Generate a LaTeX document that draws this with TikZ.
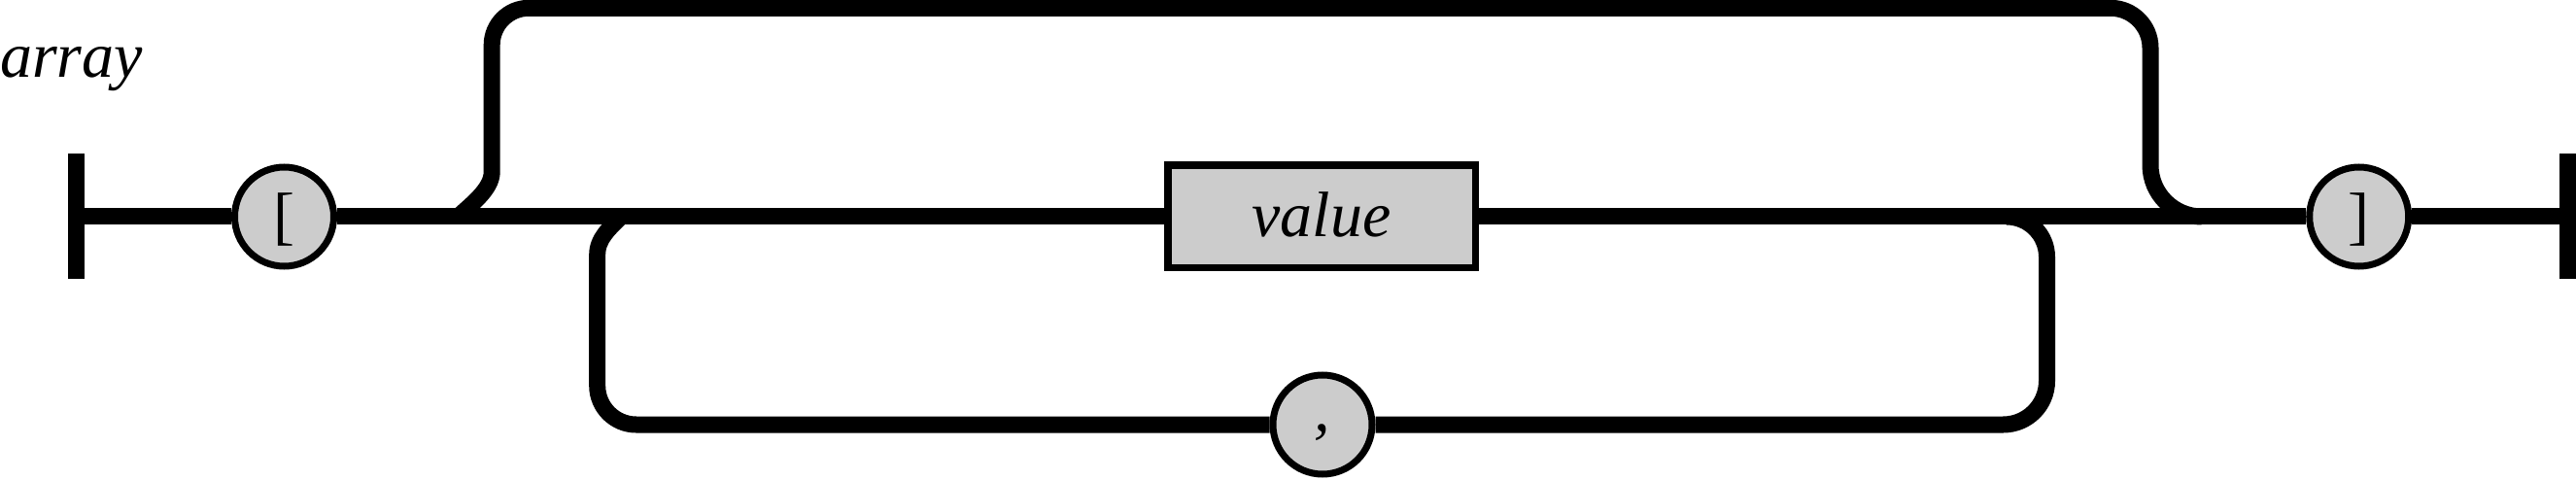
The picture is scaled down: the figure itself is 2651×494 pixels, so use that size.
\documentclass[tikz,border=0pt]{standalone}
\usepackage{fontspec}
\setmainfont{Liberation Serif}
\definecolor{tokfill}{RGB}{204,204,204}
\tikzset{
  rail/.style={line width=17pt},
  tok/.style={circle, draw, line width=7pt, fill=tokfill, minimum size=102pt, inner sep=0pt,
    text height=45pt, text depth=2pt, font=\fontsize{66}{70}\selectfont},
  ntbox/.style={rectangle, draw, line width=7.5pt, fill=tokfill, minimum width=316.5pt,
    minimum height=105.5pt, inner sep=0pt, text height=45pt, text depth=4pt,
    font=\fontsize{66}{70}\selectfont\itshape},
  endbar/.style={rectangle, fill=black, minimum width=17pt, minimum height=129pt, inner sep=0pt},
  titletext/.style={anchor=base west, inner sep=0pt, font=\fontsize{66}{70}\selectfont\itshape},
}
\begin{document}
\begin{tikzpicture}[x=1pt,y=-1pt]
\useasboundingbox (0,0) rectangle (2651,494);
\node[titletext] (title) at (0,80) {array};
\node[endbar] (start) at (78.5,223) {};
\node[tok] (lb) at (292.5,223) {[};
\node[ntbox] (val) at (1360,223) {value};
\node[tok] (rb) at (2427.7,223) {]};
\node[endbar] (stop) at (2642.5,223) {};
\node[tok, text height=14pt, text depth=2pt, font=\fontsize{66}{70}\selectfont\itshape] (comma) at (1361,437) {,};
% junction points on the main line
\coordinate (upL) at (471.5,223);
\coordinate (upR) at (2266,223);
\coordinate (loL) at (639,223);
\coordinate (loR) at (2065,223);
% upper branch (skip)
\draw[rail] (upR) arc[start angle=90, end angle=180, radius=53]
  -- (2213,49.3) arc[start angle=360, end angle=270, radius=41]
  -- (544.2,8.3) arc[start angle=270, end angle=180, radius=38]
  -- (506.2,177) .. controls (506.2,195) and (484,211) .. (upL);
% lower branch (repeat through comma)
\draw[rail] (loR) arc[start angle=270, end angle=360, radius=41.5]
  -- (2106.5,392) arc[start angle=0, end angle=90, radius=45] -- (comma);
\draw[rail] (comma) -- (654.7,437) arc[start angle=90, end angle=180, radius=40]
  -- (614.7,262) .. controls (614.7,245) and (628,234.5) .. (loL);
% main line
\draw[rail] (start) -- (lb);
\draw[rail] (lb) -- (val);
\draw[rail] (val) -- (rb);
\draw[rail] (rb) -- (stop);
\end{tikzpicture}
\end{document}
